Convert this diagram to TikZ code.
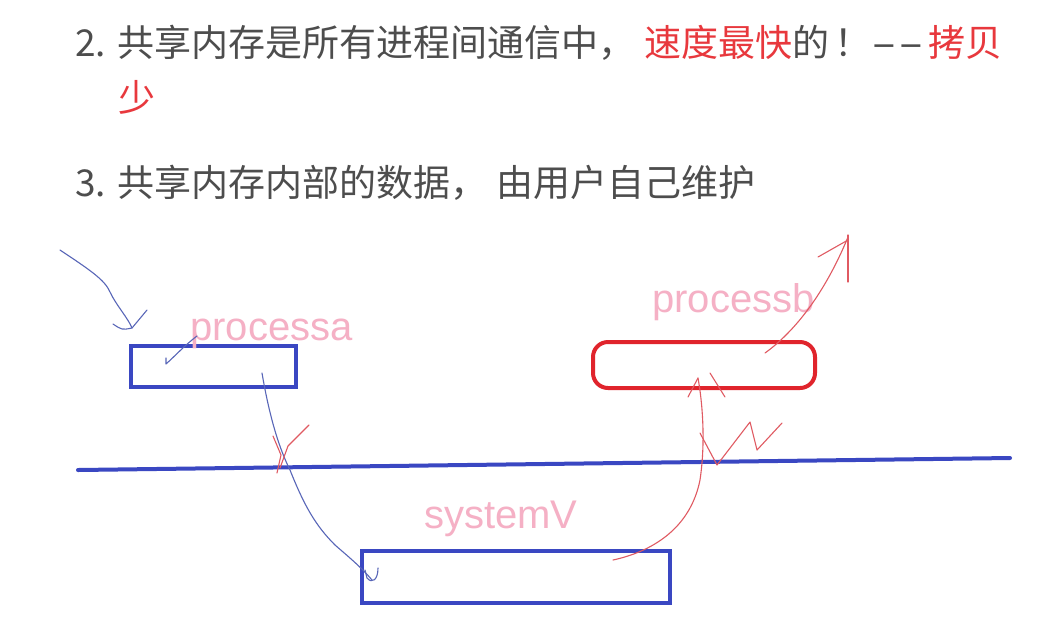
\documentclass[tikz,border=0pt]{standalone}
\usepackage{fontspec}
\usepackage{graphicx}
\setmainfont{Noto Sans CJK SC}
\newfontfamily\latinfont{Liberation Sans}
\definecolor{txtgray}{HTML}{4D4D4D}
\definecolor{hlred}{HTML}{E8383D}
\definecolor{boxblue}{HTML}{3A47C2}
\definecolor{penblue}{HTML}{5866B8}
\definecolor{boxred}{HTML}{E0242C}
\definecolor{penred}{HTML}{E05A62}
\definecolor{labelpink}{HTML}{F5B0C5}
\newcommand{\widehy}{\scalebox{2.0}[1]{-}}
\tikzset{
  bodytext/.style={anchor=base west, inner sep=0pt, font=\fontsize{37}{44}\selectfont, text=txtgray},
  pinklabel/.style={anchor=base west, inner sep=0pt, font=\latinfont\fontsize{40}{46}\selectfont, text=labelpink},
  bluebox/.style={draw=boxblue, line width=4pt, rectangle, inner sep=0pt},
  redbox/.style={draw=boxred, line width=4pt, rectangle, rounded corners=15pt, inner sep=0pt},
  bluepen/.style={draw=penblue, line width=1.1pt, line cap=round, line join=round},
  redpen/.style={draw=penred, line width=1.1pt, line cap=round, line join=round},
  sepline/.style={draw=boxblue, line width=4pt, line cap=round}
}
\begin{document}
\begin{tikzpicture}[x=1pt,y=-1pt]
\useasboundingbox (0,0) rectangle (1043,633);
\fill[white] (0,0) rectangle (1043,633);

% text
\node[bodytext] (l1) at (75,56) {2. 共享内存是所有进程间通信中，\hspace{9pt}\textcolor{hlred}{速度最快}的\hspace{5pt}！\widehy\kern1.5pt\widehy\hspace{5pt}\textcolor{hlred}{拷贝}};
\node[bodytext, text=hlred] (l2) at (118,111) {少};
\node[bodytext] (l3) at (75,196) {3. 共享内存内部的数据，\hspace{9pt}由用户自己维护};

% separator
\coordinate (lineL) at (78,470);
\coordinate (lineR) at (1010,458);
\draw[sepline] (lineL) -- (lineR);

% boxes
\node[bluebox, minimum width=165pt, minimum height=41pt] (pabox) at (213.5,366.5) {};
\node[redbox, minimum width=222pt, minimum height=46pt] (pbbox) at (704,365) {};
\node[bluebox, minimum width=308pt, minimum height=52pt] (svbox) at (516,577) {};

% labels
\node[pinklabel] (palabel) at (190,340) {processa};
\node[pinklabel] (pblabel) at (652,312) {processb};
\node[pinklabel] (svlabel) at (424,528) {systemV};

% blue arrow into processa
\coordinate (a1s) at (60,250);
\coordinate (a1t) at (132,328);
\draw[bluepen] (a1s) .. controls (90,270) and (105,280) .. (110,292) .. controls (116,305) and (128,318) .. (a1t);
\draw[bluepen] (113,324) .. controls (122,330) .. (a1t) -- (147,310);

% small tick inside processa
\coordinate (tk) at (197,336);
\draw[bluepen] (166,358) -- (166,364) .. controls (175,356) and (185,345) .. (tk);

% blue curve processa -> systemV
\coordinate (a2s) at (262,373);
\coordinate (a2t) at (372,580);
\draw[bluepen] (a2s) .. controls (270,420) and (280,450) .. (290,470) .. controls (304,505) and (315,525) .. (335,545) .. controls (350,558) and (362,568) .. (a2t);
\draw[bluepen] (365,570) -- (367,578) .. controls (372,584) and (378,580) .. (378,568);

% red check at crossing
\draw[redpen] (273,436) -- (281,455) -- (277,473);
\draw[redpen] (309,425) -- (288,446) -- (280,468);

% red curve systemV -> processb
\coordinate (r1s) at (613,560);
\coordinate (r1t) at (698,378);
\draw[redpen] (r1s) .. controls (650,552) and (690,530) .. (700,480) .. controls (706,440) and (702,400) .. (r1t);
\draw[redpen] (688,397) -- (r1t);
\draw[redpen] (710,373) -- (725,397);

% zigzag
\draw[redpen] (700,433) -- (717,465) -- (750,422) -- (757,450) -- (782,423);

% red arrow out of processb
\coordinate (r2s) at (765,353);
\coordinate (r2t) at (848,237);
\draw[redpen] (r2s) .. controls (790,335) and (822,300) .. (r2t);
\draw[redpen] (818,257) -- (848,240);
\draw[redpen] (848,235) -- (848,282);
\end{tikzpicture}
\end{document}
